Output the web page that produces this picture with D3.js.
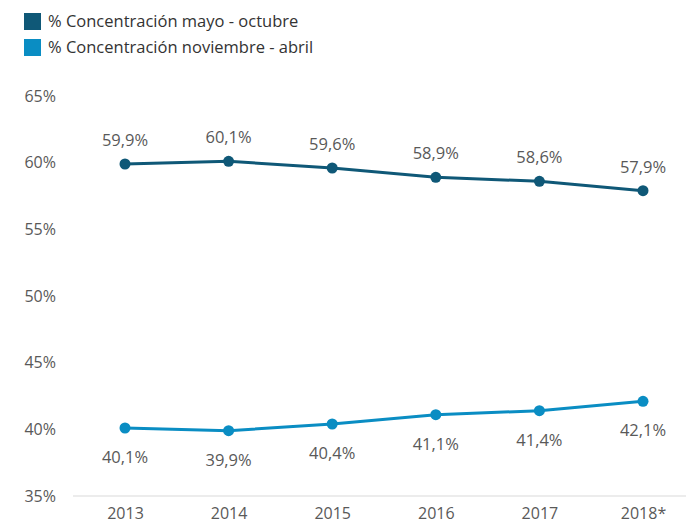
<!DOCTYPE html>
<html>
<head>
<meta charset="utf-8">
<script src="https://cdn.jsdelivr.net/npm/d3@7"></script>
<style>
  body { margin: 0; background: #fff; }
  text { font-family: "Open Sans", sans-serif; fill: #595959; }
</style>
</head>
<body>
<div class="canvas"></div>
<script>
const years = ["2013", "2014", "2015", "2016", "2017", "2018*"];
const mayoOctubre = [59.9, 60.1, 59.6, 58.9, 58.6, 57.9];
const noviembreAbril = [40.1, 39.9, 40.4, 41.1, 41.4, 42.1];
const yTicks = [35, 40, 45, 50, 55, 60, 65];

const seriesNames = ["% Concentración mayo - octubre", "% Concentración noviembre - abril"];
const colors = ["#0f5877", "#0a8dc3"];

const width = 686, height = 528;

const svg = d3.select(".canvas")
  .append("svg")
  .attr("width", width)
  .attr("height", height);

// scales
const x = d3.scalePoint().domain(years).range([125, 643]);
const y = d3.scaleLinear().domain([35, 65]).range([496, 96]);

// baseline
svg.append("line")
  .attr("x1", 73).attr("x2", 686)
  .attr("y1", y(35)).attr("y2", y(35))
  .attr("stroke", "#d9d9d9")
  .attr("stroke-width", 1);

// y axis labels
const yAxis = d3.axisLeft(y)
  .tickValues(yTicks)
  .tickFormat(d => d + "%")
  .tickSize(0)
  .tickPadding(0);

svg.append("g")
  .attr("transform", "translate(56,0)")
  .call(yAxis)
  .call(g => g.select(".domain").remove())
  .selectAll("text")
    .style("font-size", "16px")
    .attr("fill", "#595959");

// x axis labels
const xAxis = d3.axisBottom(x).tickSize(0).tickPadding(0);
svg.append("g")
  .attr("transform", "translate(0,508)")
  .call(xAxis)
  .call(g => g.select(".domain").remove())
  .selectAll("text")
    .style("font-size", "16px")
    .attr("fill", "#595959");

const line = d3.line()
  .x((d, i) => x(years[i]))
  .y(d => y(d));

const fmt = v => v.toFixed(1).replace(".", ",") + "%";

const allSeries = [mayoOctubre, noviembreAbril];
allSeries.forEach((vals, s) => {
  svg.append("path")
    .datum(vals)
    .attr("fill", "none")
    .attr("stroke", colors[s])
    .attr("stroke-width", 3)
    .attr("d", line);

  svg.selectAll(".pt" + s)
    .data(vals)
    .enter()
    .append("circle")
      .attr("cx", (d, i) => x(years[i]))
      .attr("cy", d => y(d))
      .attr("r", 5.5)
      .attr("fill", colors[s]);

  // data labels: top series above, bottom series below
  svg.selectAll(".lbl" + s)
    .data(vals)
    .enter()
    .append("text")
      .attr("x", (d, i) => x(years[i]))
      .attr("y", d => s === 0 ? y(d) - 18 : y(d) + 35)
      .attr("text-anchor", "middle")
      .style("font-size", "16.5px")
      .text(fmt);
});

// legend
const legend = svg.append("g");
seriesNames.forEach((name, i) => {
  const gy = 13 + i * 26;
  legend.append("rect")
    .attr("x", 24).attr("y", gy)
    .attr("width", 17).attr("height", 17)
    .attr("fill", colors[i]);
  legend.append("text")
    .attr("x", 48).attr("y", gy + 14)
    .style("font-size", "16.5px")
    .style("fill", "#333")
    .text(name);
});
</script>
</body>
</html>
